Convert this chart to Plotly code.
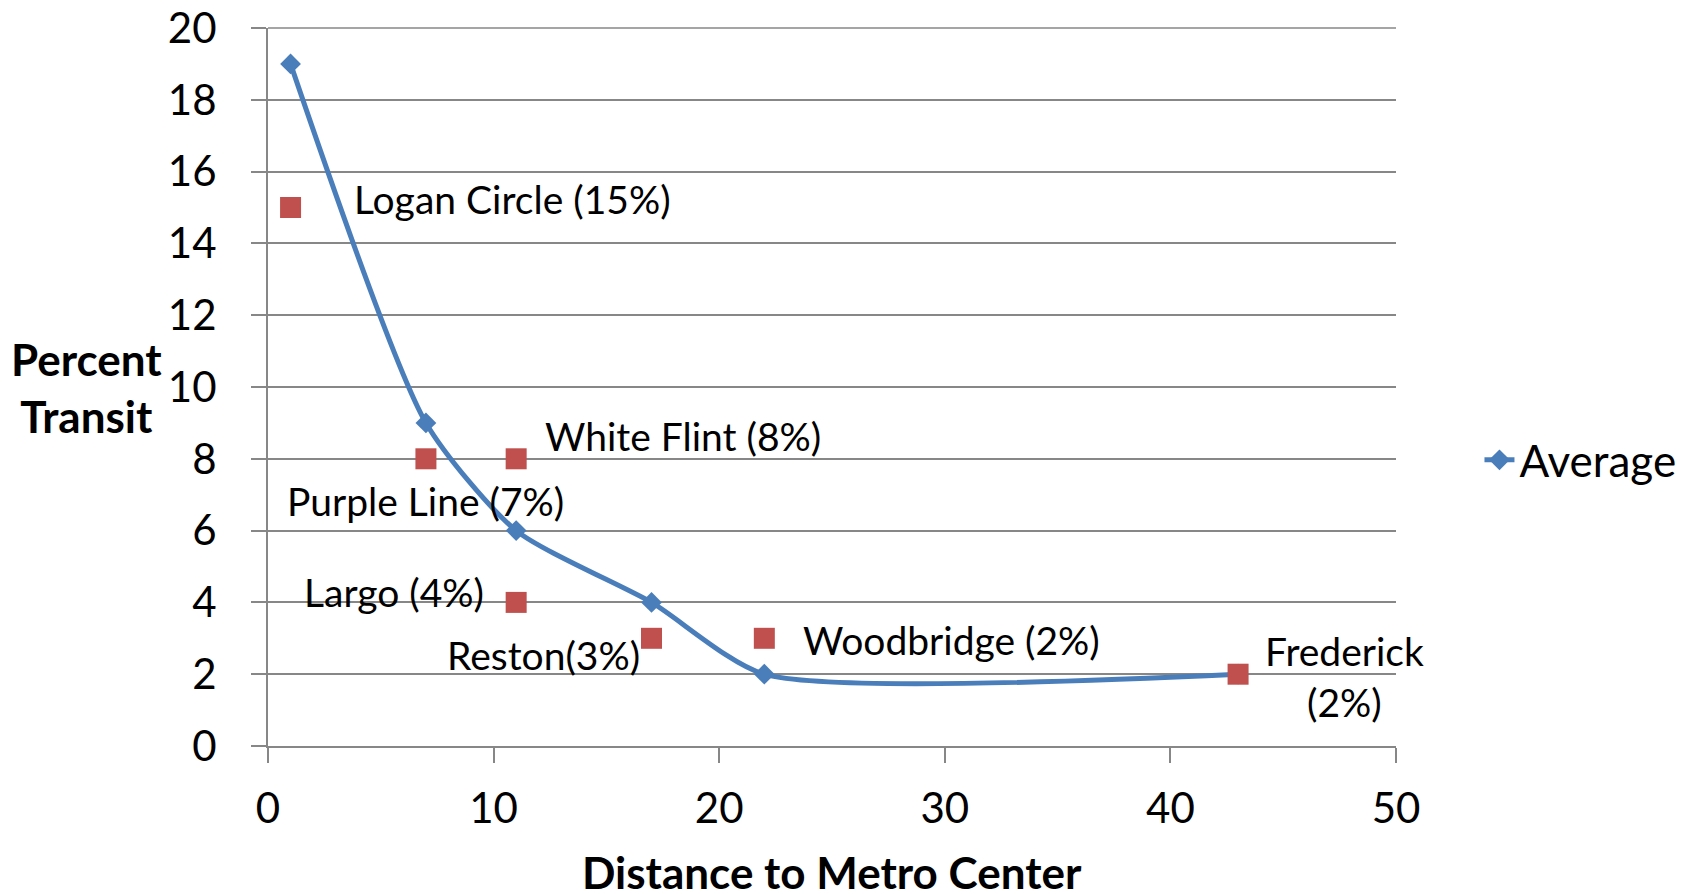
import plotly.graph_objects as go

# ---- data ----
avg_distance = [1, 7, 11, 17, 22, 43]
avg_percent = [19, 9, 6, 4, 2, 2]

site_names = ["Logan Circle (15%)", "Purple Line (7%)", "White Flint (8%)", "Largo (4%)",
              "Reston(3%)", "Woodbridge (2%)", "Frederick<br>(2%)"]
site_distance = [1, 7, 11, 11, 17, 22, 43]
site_percent = [15, 8, 8, 4, 3, 3, 2]

x_ticks = [0, 10, 20, 30, 40, 50]
y_ticks = [0, 2, 4, 6, 8, 10, 12, 14, 16, 18, 20]

# label placement (style): anchor, xshift, yshift in px
label_style = [
    ("left", 61, 9),
    ("center", 0, -42),
    ("left", 27, 23),
    ("right", -30, 10),
    ("right", -10, -17),
    ("left", 37, -2),
    ("center", 106, -2),
]

FONT = "Lato"
BLUE = "#4A7EBB"
RED = "#C0504D"
GRID = "#878787"

fig = go.Figure()
fig.add_trace(go.Scatter(
    x=avg_distance, y=avg_percent, mode="lines+markers", name="Average",
    line=dict(color=BLUE, width=5, shape="spline", smoothing=0.65),
    marker=dict(symbol="diamond", size=16, color=BLUE),
))
fig.add_trace(go.Scatter(
    x=site_distance, y=site_percent, mode="markers", name="Sites", showlegend=False,
    marker=dict(symbol="square", size=21, color=RED),
))

annotations = []
for name, xv, yv, (anc, xs, ys) in zip(site_names, site_distance, site_percent, label_style):
    annotations.append(dict(
        x=xv, y=yv, xref="x", yref="y", text=name, showarrow=False,
        xanchor=anc, yanchor="middle", xshift=xs, yshift=ys, align="center",
        font=dict(family=FONT, size=39, color="black"),
    ))
annotations.append(dict(
    x=-0.1605, y=0.5, xref="paper", yref="paper", text="<b>Percent<br>Transit</b>",
    showarrow=False, xanchor="center", yanchor="middle", align="center",
    font=dict(family=FONT, size=44, color="black"),
))
annotations.append(dict(
    x=0.5, y=-0.176, xref="paper", yref="paper", text="<b>Distance to Metro Center</b>",
    showarrow=False, xanchor="center", yanchor="middle",
    font=dict(family=FONT, size=44, color="black"),
))

# top gridline at the top edge of the y range (clipped away by plotly otherwise)
shapes = [dict(type="line", xref="paper", yref="paper", x0=0, x1=1,
               y0=1, y1=1, layer="above",
               line=dict(color=GRID, width=1.5))]

fig.update_layout(
    width=1682, height=886,
    margin=dict(l=260, r=294, t=20, b=148, autoexpand=False),
    paper_bgcolor="white", plot_bgcolor="white",
    font=dict(family=FONT, color="black"),
    annotations=annotations,
    shapes=shapes,
    showlegend=True,
    legend=dict(x=1.074, y=0.398, xanchor="left", yanchor="middle",
                font=dict(family=FONT, size=44, color="black"),
                bgcolor="rgba(0,0,0,0)", itemwidth=30),
    xaxis=dict(range=[0, 50], tickvals=x_ticks, showgrid=False, zeroline=False,
               showline=True, linecolor=GRID, linewidth=2, automargin=False,
               ticks="outside", ticklen=15, tickcolor=GRID, tickwidth=1.5,
               tickfont=dict(family=FONT, size=42, color="black"),
               ticklabelstandoff=10, ticklabeloverflow="allow"),
    yaxis=dict(range=[0, 20], tickvals=y_ticks, showgrid=True, gridcolor=GRID, gridwidth=1.5,
               zeroline=False, showline=True, linecolor=GRID, linewidth=2, automargin=False,
               ticks="outside", ticklen=15, tickcolor=GRID, tickwidth=1.5,
               tickfont=dict(family=FONT, size=42, color="black"),
               ticklabelstandoff=26, ticklabeloverflow="allow"),
)

fig.write_html("out.html")
